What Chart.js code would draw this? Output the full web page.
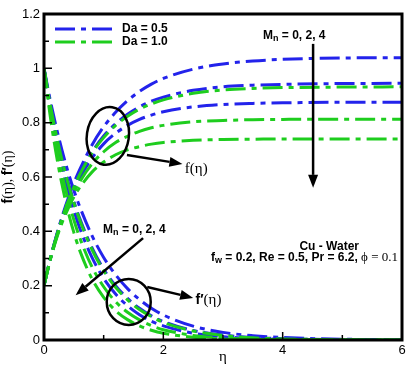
<!DOCTYPE html>
<html>
<head>
<meta charset="utf-8">
<script src="https://cdn.jsdelivr.net/npm/chart.js@4.4.1/dist/chart.umd.min.js"></script>
<style>
  html, body { margin: 0; padding: 0; background: #fff; }
  #wrap { width: 414px; height: 369px; }
</style>
</head>
<body>
<div id="wrap"><canvas id="chart" width="414" height="369"></canvas></div>
<script>
// eta grid and curves
const eta = [0, 0.1, 0.2, 0.3, 0.4, 0.5, 0.6, 0.8, 1.0, 1.2, 1.4, 1.6, 1.8, 2.0, 2.5, 3.0, 3.5, 4.0, 5.0, 6.0];

// Da = 0.5 (blue), Mn = 0, 2, 4
const fBlueMn0 = [0.2, 0.294, 0.378, 0.452, 0.518, 0.577, 0.628, 0.716, 0.785, 0.838, 0.881, 0.915, 0.942, 0.963, 0.997, 1.016, 1.027, 1.033, 1.038, 1.039];
const fBlueMn2 = [0.2, 0.294, 0.375, 0.447, 0.509, 0.564, 0.612, 0.690, 0.751, 0.796, 0.831, 0.858, 0.879, 0.894, 0.919, 0.932, 0.938, 0.941, 0.944, 0.945];
const fBlueMn4 = [0.2, 0.293, 0.373, 0.442, 0.502, 0.553, 0.598, 0.668, 0.722, 0.761, 0.790, 0.812, 0.828, 0.840, 0.858, 0.867, 0.871, 0.873, 0.875, 0.875];
const fpBlueMn0 = [1, 0.888, 0.788, 0.700, 0.621, 0.551, 0.490, 0.386, 0.304, 0.240, 0.189, 0.149, 0.117, 0.092, 0.051, 0.028, 0.016, 0.009, 0.003, 0.001];
const fpBlueMn2 = [1, 0.874, 0.765, 0.668, 0.585, 0.511, 0.447, 0.342, 0.261, 0.200, 0.153, 0.117, 0.089, 0.068, 0.035, 0.018, 0.009, 0.005, 0.001, 0];
const fpBlueMn4 = [1, 0.862, 0.744, 0.641, 0.553, 0.477, 0.411, 0.306, 0.227, 0.169, 0.126, 0.093, 0.069, 0.052, 0.025, 0.012, 0.006, 0.003, 0.001, 0];

// Da = 1.0 (green), Mn = 0, 2, 4
const fGreenMn0 = [0.2, 0.294, 0.375, 0.446, 0.508, 0.562, 0.609, 0.687, 0.745, 0.790, 0.824, 0.850, 0.869, 0.884, 0.908, 0.920, 0.926, 0.929, 0.931, 0.932];
const fGreenMn2 = [0.2, 0.292, 0.370, 0.437, 0.494, 0.542, 0.583, 0.647, 0.693, 0.727, 0.750, 0.768, 0.781, 0.790, 0.803, 0.808, 0.811, 0.812, 0.813, 0.813];
const fGreenMn4 = [0.2, 0.291, 0.367, 0.430, 0.482, 0.526, 0.562, 0.617, 0.655, 0.682, 0.700, 0.712, 0.721, 0.727, 0.735, 0.738, 0.739, 0.740, 0.740, 0.740];
const fpGreenMn0 = [1, 0.872, 0.761, 0.664, 0.579, 0.505, 0.441, 0.335, 0.255, 0.194, 0.148, 0.112, 0.086, 0.065, 0.033, 0.017, 0.008, 0.004, 0.001, 0];
const fpGreenMn2 = [1, 0.850, 0.722, 0.613, 0.521, 0.442, 0.376, 0.271, 0.196, 0.141, 0.102, 0.074, 0.053, 0.038, 0.017, 0.008, 0.003, 0.002, 0, 0];
const fpGreenMn4 = [1, 0.831, 0.690, 0.574, 0.477, 0.396, 0.329, 0.227, 0.157, 0.108, 0.075, 0.052, 0.036, 0.025, 0.010, 0.004, 0.002, 0.001, 0, 0];

const legendLabels = ['Da = 0.5', 'Da = 1.0'];
const blue = 'rgb(35,35,235)';
const green = 'rgb(30,205,30)';
const dashDot = [20, 6, 5, 6];
const sans = "'Liberation Sans', Arial, sans-serif";
const serif = "'Liberation Serif', 'Times New Roman', serif";

function series(values, color) {
  return {
    data: eta.map((x, i) => ({ x: x, y: values[i] })),
    borderColor: color,
    borderWidth: 3,
    borderDash: dashDot,
    pointRadius: 0,
    fill: false,
    cubicInterpolationMode: 'monotone'
  };
}

let datasets = [
  series(fGreenMn0, green), series(fGreenMn2, green), series(fGreenMn4, green),
  series(fpGreenMn0, green), series(fpGreenMn2, green), series(fpGreenMn4, green),
  series(fBlueMn0, blue), series(fBlueMn2, blue), series(fBlueMn4, blue),
  series(fpBlueMn0, blue), series(fpBlueMn2, blue), series(fpBlueMn4, blue)
];

// draws text made of pieces (subscripts, mixed fonts)
function rich(ctx, x, y, parts, align) {
  let w = 0;
  parts.forEach(p => { ctx.font = p.f; w += ctx.measureText(p.t).width; });
  let cx = align === 'center' ? x - w / 2 : (align === 'right' ? x - w : x);
  ctx.textAlign = 'left';
  ctx.textBaseline = 'middle';
  parts.forEach(p => {
    ctx.font = p.f;
    ctx.fillText(p.t, cx, y + (p.dy || 0));
    cx += ctx.measureText(p.t).width;
  });
}

function arrow(ctx, x1, y1, x2, y2) {
  let a = Math.atan2(y2 - y1, x2 - x1);
  let hl = 13, hw = 5;
  ctx.beginPath();
  ctx.moveTo(x1, y1);
  ctx.lineTo(x2 - hl * Math.cos(a), y2 - hl * Math.sin(a));
  ctx.stroke();
  ctx.beginPath();
  ctx.moveTo(x2, y2);
  ctx.lineTo(x2 - hl * Math.cos(a) + hw * Math.sin(a), y2 - hl * Math.sin(a) - hw * Math.cos(a));
  ctx.lineTo(x2 - hl * Math.cos(a) - hw * Math.sin(a), y2 - hl * Math.sin(a) + hw * Math.cos(a));
  ctx.closePath();
  ctx.fill();
}

const decorations = {
  id: 'decorations',
  afterDraw(chart) {
    const ctx = chart.ctx;
    const a = chart.chartArea;
    const xs = chart.scales.x, ys = chart.scales.y;
    const px = v => xs.getPixelForValue(v);
    const py = v => ys.getPixelForValue(v);
    ctx.save();
    ctx.strokeStyle = '#000';
    ctx.fillStyle = '#000';

    // ticks pointing inward
    ctx.lineWidth = 1.5;
    ctx.beginPath();
    for (let v = 1; v < 6; v++) {
      let len = v % 2 === 0 ? 8 : 5;
      ctx.moveTo(px(v), a.bottom);
      ctx.lineTo(px(v), a.bottom - len);
    }
    for (let k = 1; k < 12; k++) {
      let len = k % 2 === 0 ? 8 : 5;
      ctx.moveTo(a.left, py(k / 10));
      ctx.lineTo(a.left + len, py(k / 10));
    }
    ctx.stroke();

    // frame
    ctx.lineWidth = 3;
    ctx.strokeRect(a.left, a.top, a.right - a.left, a.bottom - a.top);

    // legend
    const legendColors = [blue, green];
    legendLabels.forEach((lab, i) => {
      let y = a.top + 15 + i * 13;
      ctx.strokeStyle = legendColors[i];
      ctx.lineWidth = 3;
      ctx.setLineDash(dashDot);
      ctx.beginPath();
      ctx.moveTo(a.left + 11, y);
      ctx.lineTo(a.left + 70, y);
      ctx.stroke();
      ctx.setLineDash([]);
      ctx.fillStyle = '#000';
      rich(ctx, a.left + 78, y, [{ t: lab, f: 'bold 12px ' + sans }], 'left');
    });

    ctx.strokeStyle = '#000';
    ctx.fillStyle = '#000';
    ctx.lineWidth = 2.5;

    // ellipse around f(eta)
    ctx.beginPath();
    ctx.ellipse(px(1.07), py(0.751), 21, 29, 0.15, 0, Math.PI * 2);
    ctx.stroke();
    arrow(ctx, px(1.39), py(0.681), px(2.32), py(0.648));
    rich(ctx, px(2.36), py(0.63), [
      { t: 'f', f: '15px ' + serif }, { t: '(\u03b7)', f: '15px ' + serif }
    ], 'left');

    // ellipse around f'(eta)
    ctx.beginPath();
    ctx.ellipse(px(1.42), py(0.14), 22, 23, 0, 0, Math.PI * 2);
    ctx.stroke();
    arrow(ctx, px(1.73), py(0.195), px(2.5), py(0.155));
    rich(ctx, px(2.54), py(0.148), [
      { t: 'f\u2032', f: 'bold 14px ' + sans }, { t: '(\u03b7)', f: '15px ' + serif }
    ], 'left');

    // Mn arrows
    const mn = [
      { t: 'M', f: 'bold 12px ' + sans }, { t: 'n', f: 'bold 9px ' + sans, dy: 3 },
      { t: ' = 0, 2, 4', f: 'bold 12px ' + sans }
    ];
    rich(ctx, px(0.99), py(0.405), mn, 'left');
    arrow(ctx, px(1.66), py(0.375), px(0.53), py(0.165));
    rich(ctx, px(3.67), py(1.122), mn, 'left');
    arrow(ctx, px(4.51), py(1.09), px(4.51), py(0.56));

    // parameters
    rich(ctx, px(4.78), py(0.345), [{ t: 'Cu - Water', f: 'bold 12px ' + sans }], 'center');
    rich(ctx, px(6) - 4, py(0.303), [
      { t: 'f', f: 'bold 12px ' + sans }, { t: 'w', f: 'bold 9px ' + sans, dy: 3 },
      { t: ' = 0.2, Re = 0.5, Pr = 6.2, ', f: 'bold 12px ' + sans },
      { t: '\u03d5 = 0.1', f: '13px ' + serif }
    ], 'right');

    // axis titles
    rich(ctx, px(3), a.bottom + 17, [{ t: '\u03b7', f: '15px ' + serif }], 'center');
    ctx.translate(8, py(0.6));
    ctx.rotate(-Math.PI / 2);
    rich(ctx, 0, 0, [
      { t: 'f', f: 'bold 14px ' + sans }, { t: '(\u03b7), ', f: '14px ' + serif },
      { t: 'f\u2032', f: 'bold 14px ' + sans }, { t: '(\u03b7)', f: '14px ' + serif }
    ], 'center');
    ctx.restore();
  }
};

let options = {
  type: 'line',
  data: { datasets: datasets },
  options: {
    responsive: false,
    animation: false,
    layout: { padding: { top: 14, right: 12, left: 0, bottom: 0 } },
    plugins: { legend: { display: false }, tooltip: { enabled: false } },
    scales: {
      x: {
        type: 'linear',
        min: 0,
        max: 6,
        ticks: { stepSize: 2, color: '#000', padding: 3, font: { size: 13, family: sans } },
        grid: { display: false, drawTicks: false },
        border: { display: false },
        afterFit: s => { s.height = 29; }
      },
      y: {
        min: 0,
        max: 1.2,
        ticks: {
          stepSize: 0.2, color: '#000', padding: 4, font: { size: 13, family: sans },
          callback: v => String(Number(v.toFixed(1)))
        },
        grid: { display: false, drawTicks: false },
        border: { display: false },
        afterFit: s => { s.width = 44; }
      }
    }
  },
  plugins: [decorations]
};

let chart = new Chart(document.getElementById('chart'), options);
</script>
</body>
</html>
